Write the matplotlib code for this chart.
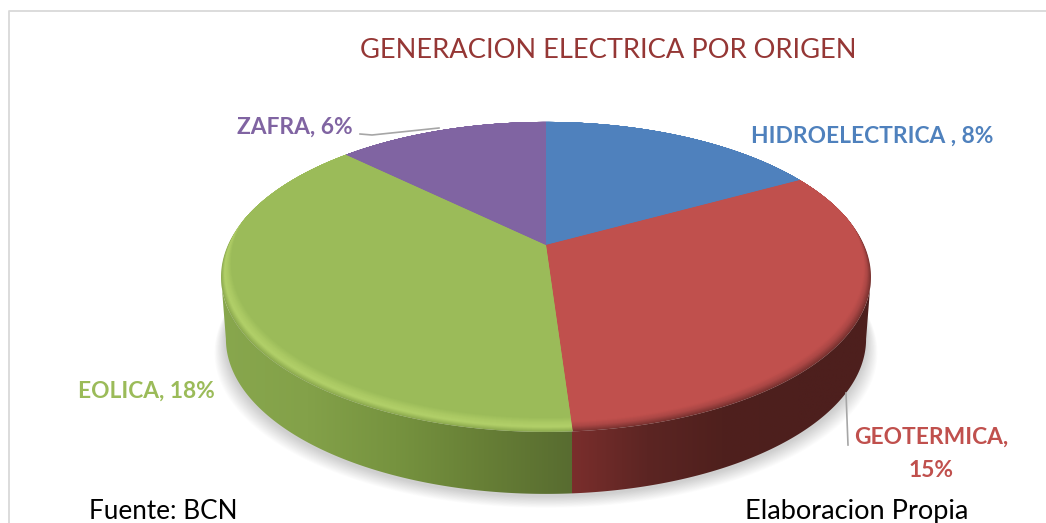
import numpy as np
import matplotlib
matplotlib.use("Agg")
import matplotlib.pyplot as plt
from matplotlib.colors import LinearSegmentedColormap, to_rgb
from matplotlib.patches import Polygon

# Data
categories = ["HIDROELECTRICA ", "GEOTERMICA", "EOLICA", "ZAFRA"]
values = [8, 15, 18, 6]
colors = ["#4f81bd", "#c0504d", "#9bbb59", "#8064a2"]
title = "GENERACION ELECTRICA POR ORIGEN"
source_left = "Fuente: BCN"
source_right = "Elaboracion Propia"

plt.rcParams["font.family"] = ["Lato", "DejaVu Sans"]

fig = plt.figure(figsize=(10.46, 5.23), dpi=100)
ax = fig.add_axes([0, 0, 1, 1])

# Pie geometry, in picture pixels
CX, CY = 546, 245
RX, RY, PERSP = 318, 148.4, 0.206
DEPTH = 62


def project(deg, shrink=1.0, shift=0.0):
    # deg runs clockwise from the top of the pie, far side is drawn smaller
    t = np.radians(deg)
    x, y = np.sin(t), np.cos(t)
    w = 1 + PERSP * y
    return np.column_stack([CX + shrink * RX * x / w, CY - RY * y / w + shift])


def lower(deg, grow=0.0, shift=0.0):
    # outline of the underside of the pie
    return project(deg, 0.985 + grow, DEPTH + shift)


def wedge_points(a, b):
    arc = project(np.linspace(a, b, 200))
    return np.vstack([[CX, CY], arc])


all_deg = np.linspace(0, 360, 721)
edges = np.concatenate([[0], np.cumsum(values) / sum(values) * 360])
# where the outline of the pie turns from front to back
side_r = np.degrees(np.arccos(-PERSP))
side_l = 360 - side_r

# Soft shadow under the pie
for k in range(16, 0, -1):
    ax.add_patch(Polygon(lower(all_deg, k * 0.0022, 2 + k * 0.75), closed=True,
                         fc="black", ec="none", alpha=0.013, zorder=1))

# Side wall, dark gradients left to right (red first, green overlaps the seam)
wall_stops = {
    1: ["#7a2e2c", "#5c2523", "#4f201d", "#4d1f1d", "#4d1f1d"],
    2: ["#88a74d", "#83a149", "#76933f", "#677f36", "#586c30"],
}
wall_range = {1: (572, 872), 2: (220, 572)}
for i in wall_stops:
    a, b = max(edges[i], side_r), min(edges[i + 1], side_l)
    if i == 1:
        b += 0.6
    d = np.linspace(a, b, 300)
    path = Polygon(np.vstack([project(d), lower(d[::-1])]), closed=True,
                   transform=ax.transData, fc="none", ec="none")
    ax.add_patch(path)
    cmap = LinearSegmentedColormap.from_list("wall%d" % i, wall_stops[i])
    x0, x1 = wall_range[i]
    im = ax.imshow(np.linspace(0, 1, 256).reshape(1, -1), cmap=cmap, aspect="auto",
                   extent=[x0, x1, 510, 240], zorder=2 + i * 0.01, interpolation="bilinear")
    im.set_clip_path(path)

# Top surface with its bevelled rim
rim_stops = {
    0: ["#4f81bd", "#4f81bd"],
    1: ["#7a3230", "#a94644", "#c0504d", "#c0504d"],
    2: ["#8dab4f", "#b2d069", "#a9c862", "#9bbb59"],
    3: ["#8064a2", "#8064a2"],
}
for i, color in enumerate(colors):
    wedge = Polygon(wedge_points(edges[i], edges[i + 1]), closed=True,
                    fc=rim_stops[i][0], ec="none", zorder=3)
    ax.add_patch(wedge)
    stops = [np.array(to_rgb(c)) for c in rim_stops[i]]
    n = 14
    for k in range(1, n + 1):
        pos = (k / n) * (len(stops) - 1)
        j = min(int(pos), len(stops) - 2)
        c = stops[j] + (stops[j + 1] - stops[j]) * (pos - j)
        layer = Polygon(project(all_deg, 1 - 0.0022 * k, -k), closed=True,
                        fc=c, ec="none", zorder=3 + k * 0.01)
        ax.add_patch(layer)
        layer.set_clip_path(wedge)

# Leader lines
ax.plot([360, 372, 439], [134, 135, 128], color="#a6a6a6", lw=1.2, zorder=5)
ax.plot([846, 848], [393, 445], color="#a6a6a6", lw=1.2, zorder=5)

# Chart frame, open on the right
ax.plot([9, 9, 1046], [523, 11, 11], color="#d9d9d9", lw=1.3, zorder=0)

# Text
label_kw = dict(fontweight="bold", fontsize=16.4, va="center", zorder=6)
ax.text(751, 136, f"{categories[0]}, {values[0]}%", color=colors[0], ha="left", **label_kw)
ax.text(931, 454, f"{categories[1]},\n{values[1]}%", color=colors[1], ha="center",
        linespacing=1.7, **label_kw)
ax.text(78, 391, f"{categories[2]}, {values[2]}%", color=colors[2], ha="left", **label_kw)
ax.text(237, 127, f"{categories[3]}, {values[3]}%", color=colors[3], ha="left", **label_kw)
ax.text(608, 50, title, color="#953735", fontsize=19.6, ha="center", va="center", zorder=6)
ax.text(89, 519, source_left, color="black", fontsize=18.8, ha="left", va="baseline", zorder=6)
ax.text(745, 519, source_right, color="black", fontsize=19.6, ha="left", va="baseline", zorder=6)

ax.set_xlim(0, 1046)
ax.set_ylim(523, 0)
ax.axis("off")

fig.savefig("out.png", dpi=100, facecolor="white")
